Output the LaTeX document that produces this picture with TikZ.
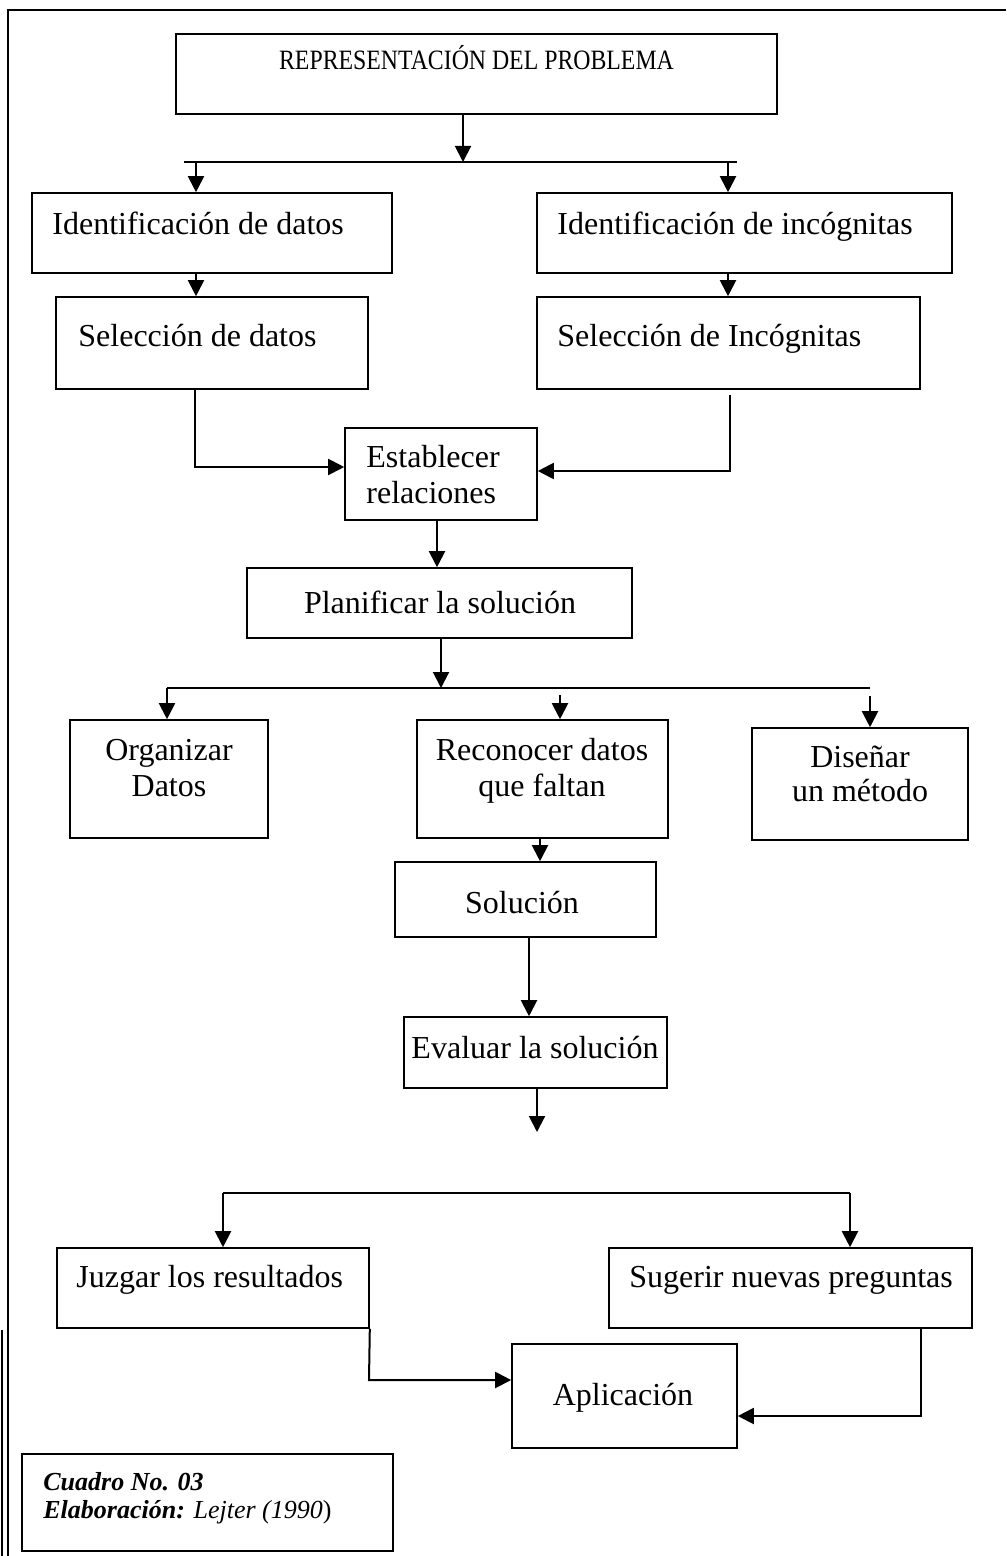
\documentclass[tikz,border=0pt]{standalone}
\usepackage{fontspec}
\setmainfont{Liberation Serif}
\usetikzlibrary{arrows.meta,fit}
\begin{document}
\begin{tikzpicture}[x=0.5pt,y=-0.5pt,
  box/.style={draw,line width=0.8pt,inner sep=0pt},
  txt/.style={inner sep=0pt,font=\fontsize{16}{18}\selectfont},
  smalltxt/.style={inner sep=0pt,font=\fontsize{14}{16}\selectfont},
  captxt/.style={inner sep=0pt,font=\fontsize{13}{15}\selectfont},
  arr/.style={-{Triangle[length=8pt,width=8pt]},line width=1pt},
  ln/.style={line width=1pt}]
\useasboundingbox (0,0) rectangle (1006,1556);
% frame
\coordinate (fa) at (8,1556);
\coordinate (fb) at (8,10);
\coordinate (fc) at (1006,10);
\coordinate (fd) at (2,1330);
\coordinate (fe) at (2,1556);
\draw[ln] (fa) -- (fb) -- (fc);
\draw[ln] (fd) -- (fe);

% boxes
\node[box,fit={(176,34) (777,114)}] (title) {};
\node[smalltxt,anchor=base] (title-t) at (476.5,70) {\scalebox{0.85}[1]{REPRESENTACIÓN DEL PROBLEMA}};

\node[box,fit={(32,193) (392,273)}] (idd) {};
\node[txt,anchor=base west] (idd-t) at (52,235) {Identificación de datos};
\node[box,fit={(537,193) (952,273)}] (idi) {};
\node[txt,anchor=base west] (idi-t) at (557,235) {Identificación de incógnitas};

\node[box,fit={(56,297) (368,389)}] (sd) {};
\node[txt,anchor=base west] (sd-t) at (78,347) {Selección de datos};
\node[box,fit={(537,297) (920,389)}] (si) {};
\node[txt,anchor=base west] (si-t) at (557,347) {Selección de Incógnitas};

\node[box,fit={(345,428) (537,520)}] (est) {};
\node[txt,anchor=base west] (est-t1) at (366,467) {Establecer};
\node[txt,anchor=base west] (est-t2) at (366,503) {relaciones};

\node[box,fit={(247,568) (632,638)}] (plan) {};
\node[txt,anchor=base] (plan-t) at (440,613) {Planificar la solución};

\node[box,fit={(70,720) (268,838)}] (org) {};
\node[txt,anchor=base] (org-t1) at (169,760) {Organizar};
\node[txt,anchor=base] (org-t2) at (169,796) {Datos};

\node[box,fit={(417,720) (668,838)}] (rec) {};
\node[txt,anchor=base] (rec-t1) at (542,760) {Reconocer datos};
\node[txt,anchor=base] (rec-t2) at (542,796) {que faltan};

\node[box,fit={(752,728) (968,840)}] (dis) {};
\node[txt,anchor=base] (dis-t1) at (860,767) {Diseñar};
\node[txt,anchor=base] (dis-t2) at (860,801) {un método};

\node[box,fit={(395,862) (656,937)}] (sol) {};
\node[txt,anchor=base] (sol-t) at (522,913) {Solución};

\node[box,fit={(404,1017) (667,1088)}] (eva) {};
\node[txt,anchor=base] (eva-t) at (535,1058) {Evaluar la solución};

\node[box,fit={(57,1248) (369,1328)}] (juz) {};
\node[txt,anchor=base west] (juz-t) at (76,1287) {Juzgar los resultados};
\node[box,fit={(609,1248) (972,1328)}] (sug) {};
\node[txt,anchor=base west] (sug-t) at (629,1287) {Sugerir nuevas preguntas};

\node[box,fit={(512,1344) (737,1448)}] (apl) {};
\node[txt,anchor=base] (apl-t) at (623,1405) {Aplicación};

\node[box,fit={(22,1454) (393,1551)}] (cua) {};
\node[captxt,anchor=base west] (cua-t1) at (43,1490) {\textbf{\textit{Cuadro No. 03}}};
\node[captxt,anchor=base west] (cua-t2) at (43,1518) {\textbf{\textit{Elaboración:}} \textit{Lejter (1990}\/)};

% connectors
\coordinate (b1) at (463,162);
\coordinate (b1L) at (184,162);
\coordinate (b1R) at (737,162);
\draw[arr] (title.south -| b1) -- (b1);
\draw[ln] (b1L) -- (b1R);
\coordinate (a1) at (196,162);
\coordinate (a2) at (728,162);
\draw[arr] (a1) -- (a1 |- idd.north);
\draw[arr] (a2) -- (a2 |- idi.north);
\draw[arr] (idd.south -| a1) -- (sd.north -| a1);
\draw[arr] (idi.south -| a2) -- (si.north -| a2);

\coordinate (c1) at (195,467);
\draw[arr] (sd.south -| c1) -- (c1) -- (c1 -| est.west);
\coordinate (c2s) at (730,395);
\coordinate (c2) at (730,471);
\draw[arr] (c2s) -- (c2) -- (c2 -| est.east);

\coordinate (d1) at (437,520);
\draw[arr] (est.south -| d1) -- (plan.north -| d1);

\coordinate (b2) at (441,688);
\coordinate (b2L) at (167,688);
\coordinate (b2R) at (870,688);
\draw[arr] (plan.south -| b2) -- (b2);
\draw[ln] (b2L) -- (b2R);
\draw[arr] (b2L) -- (b2L |- org.north);
\coordinate (e1) at (560,695);
\draw[arr] (e1) -- (e1 |- rec.north);
\coordinate (e2) at (870,696);
\draw[arr] (e2) -- (e2 |- dis.north);

\coordinate (f1) at (540,838);
\draw[arr] (rec.south -| f1) -- (sol.north -| f1);
\coordinate (f2) at (529,937);
\draw[arr] (sol.south -| f2) -- (eva.north -| f2);
\coordinate (f3) at (537,1132);
\draw[arr] (eva.south -| f3) -- (f3);

\coordinate (b3L) at (223,1193);
\coordinate (b3R) at (850,1193);
\draw[ln] (b3L) -- (b3R);
\draw[arr] (b3L) -- (b3L |- juz.north);
\draw[arr] (b3R) -- (b3R |- sug.north);

\coordinate (g1) at (369,1380);
\draw[arr] (juz.south east) -- (g1) -- (g1 -| apl.west);
\coordinate (g2) at (921,1416);
\draw[arr] (sug.south -| g2) -- (g2) -- (g2 -| apl.east);
\end{tikzpicture}
\end{document}
